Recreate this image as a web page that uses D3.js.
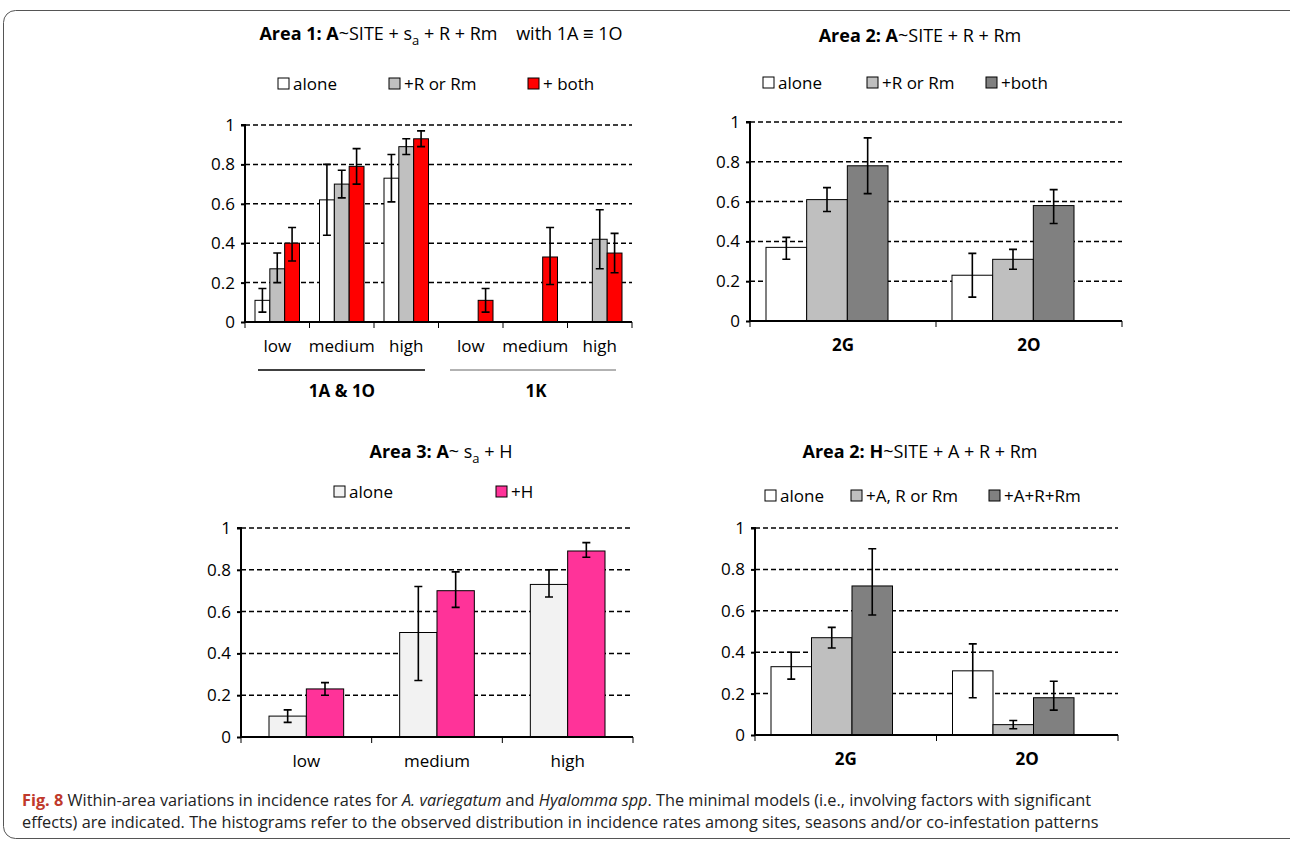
<!DOCTYPE html><html><head><meta charset="utf-8">
<script src="https://cdn.jsdelivr.net/npm/d3@7"></script>
<style>body{margin:0;background:#fff}text{font-family:"Open Sans","Noto Sans",sans-serif}</style></head><body>
<svg id="c" width="1290" height="843"></svg>
<script>
// Panel 1
const p1Cats=["low","medium","high","low","medium","high"];
const p1Alone=[0.11,0.62,0.73,null,null,null];
const p1AloneErr=[[0.05,0.17],[0.44,0.80],[0.61,0.85],null,null,null];
const p1Gray=[0.27,0.70,0.89,null,null,0.42];
const p1GrayErr=[[0.20,0.35],[0.63,0.77],[0.85,0.93],null,null,[0.27,0.57]];
const p1Red=[0.40,0.79,0.93,0.11,0.33,0.35];
const p1RedErr=[[0.31,0.48],[0.70,0.88],[0.89,0.97],[0.05,0.17],[0.19,0.48],[0.25,0.45]];
// Panel 2
const p2Cats=["2G","2O"];
const p2Alone=[0.37,0.23], p2AloneErr=[[0.31,0.42],[0.12,0.34]];
const p2Gray=[0.61,0.31], p2GrayErr=[[0.55,0.67],[0.26,0.36]];
const p2Dark=[0.78,0.58], p2DarkErr=[[0.64,0.92],[0.49,0.66]];
// Panel 3
const p3Cats=["low","medium","high"];
const p3Alone=[0.10,0.50,0.73], p3AloneErr=[[0.07,0.13],[0.27,0.72],[0.67,0.80]];
const p3H=[0.23,0.70,0.89], p3HErr=[[0.20,0.26],[0.62,0.79],[0.86,0.93]];
// Panel 4
const p4Cats=["2G","2O"];
const p4Alone=[0.33,0.31], p4AloneErr=[[0.27,0.40],[0.18,0.44]];
const p4Gray=[0.47,0.05], p4GrayErr=[[0.42,0.52],[0.03,0.07]];
const p4Dark=[0.72,0.18], p4DarkErr=[[0.58,0.90],[0.12,0.26]];
const yTicks=[0,0.2,0.4,0.6,0.8,1];

const svg=d3.select("#c");
svg.append("rect").attr("x",3.5).attr("y",10.5).attr("width",1300).attr("height",828).attr("rx",12).attr("fill","none").attr("stroke","#555").attr("stroke-width",1);

function panel(o){
  const g=svg.append("g");
  const x=d3.scaleBand().domain(o.cats.map((c,i)=>i)).range([o.x0,o.x1]).paddingInner(0).paddingOuter(0);
  const y=d3.scaleLinear().domain([0,1]).range([o.y0,o.y1]);
  const nb=o.series.length;
  const inner=d3.scaleBand().domain(d3.range(nb)).range([o.l,x.bandwidth()-o.r]).padding(0);
  g.selectAll(".gr").data(yTicks.slice(1)).join("line").attr("x1",o.x0).attr("x2",o.x1).attr("y1",d=>y(d)).attr("y2",d=>y(d)).attr("stroke","#000").attr("stroke-width",1.5).attr("stroke-dasharray","5,3");
  const ya=d3.axisLeft(y).tickValues(yTicks).tickSize(4).tickFormat(d=>d===0?"0":d===1?"1":d3.format(".1f")(d));
  const yg=g.append("g").attr("transform",`translate(${o.x0},0)`).call(ya);
  yg.select(".domain").attr("stroke-width",2).attr("d",`M-4,${o.y1}H0V${o.y0}`);
  yg.selectAll(".tick line").attr("stroke-width",2);
  yg.selectAll("text").attr("font-size",17).attr("x",-10).attr("fill","#000");
  o.series.forEach((s,si)=>{
    s.vals.forEach((v,i)=>{
      if(v==null)return;
      const bx=x(i)+inner(si);
      g.append("rect").attr("x",bx).attr("y",y(v)).attr("width",inner.bandwidth()).attr("height",y(0)-y(v)).attr("fill",s.color).attr("stroke","#000").attr("stroke-width",1);
      const e=s.err[i]; if(!e)return;
      const cx=bx+inner.bandwidth()/2;
      g.append("path").attr("d",`M${cx},${y(e[0])}V${y(e[1])}M${cx-4},${y(e[0])}H${cx+4}M${cx-4},${y(e[1])}H${cx+4}`).attr("stroke","#000").attr("stroke-width",1.6).attr("fill","none");
    });
  });
  g.append("line").attr("x1",o.x0).attr("x2",o.x1).attr("y1",o.y0).attr("y2",o.y0).attr("stroke","#000").attr("stroke-width",2);
  d3.range(o.cats.length+1).forEach(i=>{
    const tx=i<o.cats.length?x(i):o.x1;
    g.append("line").attr("x1",tx).attr("x2",tx).attr("y1",o.y0).attr("y2",o.y0+6).attr("stroke","#000").attr("stroke-width",1);
  });
  o.cats.forEach((c,i)=>g.append("text").attr("x",x(i)+x.bandwidth()/2).attr("y",o.y0+30).attr("text-anchor","middle").attr("font-size",17).attr("font-weight",o.boldCats?"bold":"normal").text(c));
  o.series.forEach((s,si)=>{
    const lx=o.leg[si];
    g.append("rect").attr("x",lx).attr("y",o.legY-12).attr("width",11).attr("height",11).attr("fill",s.color).attr("stroke","#000");
    g.append("text").attr("x",lx+15).attr("y",o.legY).attr("font-size",17).text(s.name);
  });
  const t=g.append("text").attr("x",o.tx).attr("y",o.ty).attr("text-anchor","middle").attr("font-size",18);
  o.title(t);
}
function sub(t,parts){parts.forEach(p=>{const ts=t.append("tspan").text(p[0]);if(p[1]==="b")ts.attr("font-weight","bold");if(p[1]==="s")ts.attr("font-size",13).attr("dy",5);if(p[1]==="u")ts.attr("dy",-5);});}

panel({cats:p1Cats,x0:245,x1:632,y0:322,y1:125,l:10,r:10,legY:90,leg:[278,389,528],tx:441,ty:40,
 series:[{name:"alone",vals:p1Alone,err:p1AloneErr,color:"#fff"},{name:"+R or Rm",vals:p1Gray,err:p1GrayErr,color:"#c0c0c0"},{name:"+ both",vals:p1Red,err:p1RedErr,color:"#ff0000"}],
 title:t=>sub(t,[["Area 1: A","b"],["~SITE + s"],["a","s"],[" + R + Rm\u00a0\u00a0\u00a0\u00a0with 1A ≡ 1O","u"]])});
svg.append("line").attr("x1",258).attr("x2",425).attr("y1",370).attr("y2",370).attr("stroke","#000").attr("stroke-width",1.5);
svg.append("line").attr("x1",450).attr("x2",616).attr("y1",370).attr("y2",370).attr("stroke","#666").attr("stroke-width",1);
svg.append("text").attr("x",342).attr("y",397).attr("text-anchor","middle").attr("font-size",17).attr("font-weight","bold").text("1A & 1O");
svg.append("text").attr("x",536).attr("y",397).attr("text-anchor","middle").attr("font-size",17).attr("font-weight","bold").text("1K");

panel({cats:p2Cats,x0:750,x1:1122,y0:321,y1:122,l:16,r:48,legY:89,leg:[763,867,986],tx:920,ty:42,boldCats:true,
 series:[{name:"alone",vals:p2Alone,err:p2AloneErr,color:"#fff"},{name:"+R or Rm",vals:p2Gray,err:p2GrayErr,color:"#bfbfbf"},{name:"+both",vals:p2Dark,err:p2DarkErr,color:"#808080"}],
 title:t=>sub(t,[["Area 2: A","b"],["~SITE + R + Rm"]])});

panel({cats:p3Cats,x0:241,x1:633,y0:737,y1:528,l:28,r:28,legY:498,leg:[334,496],tx:441,ty:458,
 series:[{name:"alone",vals:p3Alone,err:p3AloneErr,color:"#f2f2f2"},{name:"+H",vals:p3H,err:p3HErr,color:"#ff3399"}],
 title:t=>sub(t,[["Area 3: A","b"],["~ s"],["a","s"],[" + H","u"]])});

panel({cats:p4Cats,x0:755,x1:1118,y0:735,y1:528,l:16,r:44,legY:502,leg:[765,851,989],tx:920,ty:458,boldCats:true,
 series:[{name:"alone",vals:p4Alone,err:p4AloneErr,color:"#fff"},{name:"+A, R or Rm",vals:p4Gray,err:p4GrayErr,color:"#bfbfbf"},{name:"+A+R+Rm",vals:p4Dark,err:p4DarkErr,color:"#808080"}],
 title:t=>sub(t,[["Area 2: H","b"],["~SITE + A + R + Rm"]])});

const cap=svg.append("text").attr("x",22).attr("y",806).attr("font-size",16.3).attr("fill","#222");
cap.append("tspan").attr("font-weight","bold").attr("fill","#c0392b").text("Fig. 8");
cap.append("tspan").text(" Within-area variations in incidence rates for ");
cap.append("tspan").attr("font-style","italic").text("A. variegatum");
cap.append("tspan").text(" and ");
cap.append("tspan").attr("font-style","italic").text("Hyalomma spp");
cap.append("tspan").text(". The minimal models (i.e., involving factors with significant");
svg.append("text").attr("x",22).attr("y",828).attr("font-size",16.3).attr("fill","#222").text("effects) are indicated. The histograms refer to the observed distribution in incidence rates among sites, seasons and/or co-infestation patterns");
</script></body></html>
